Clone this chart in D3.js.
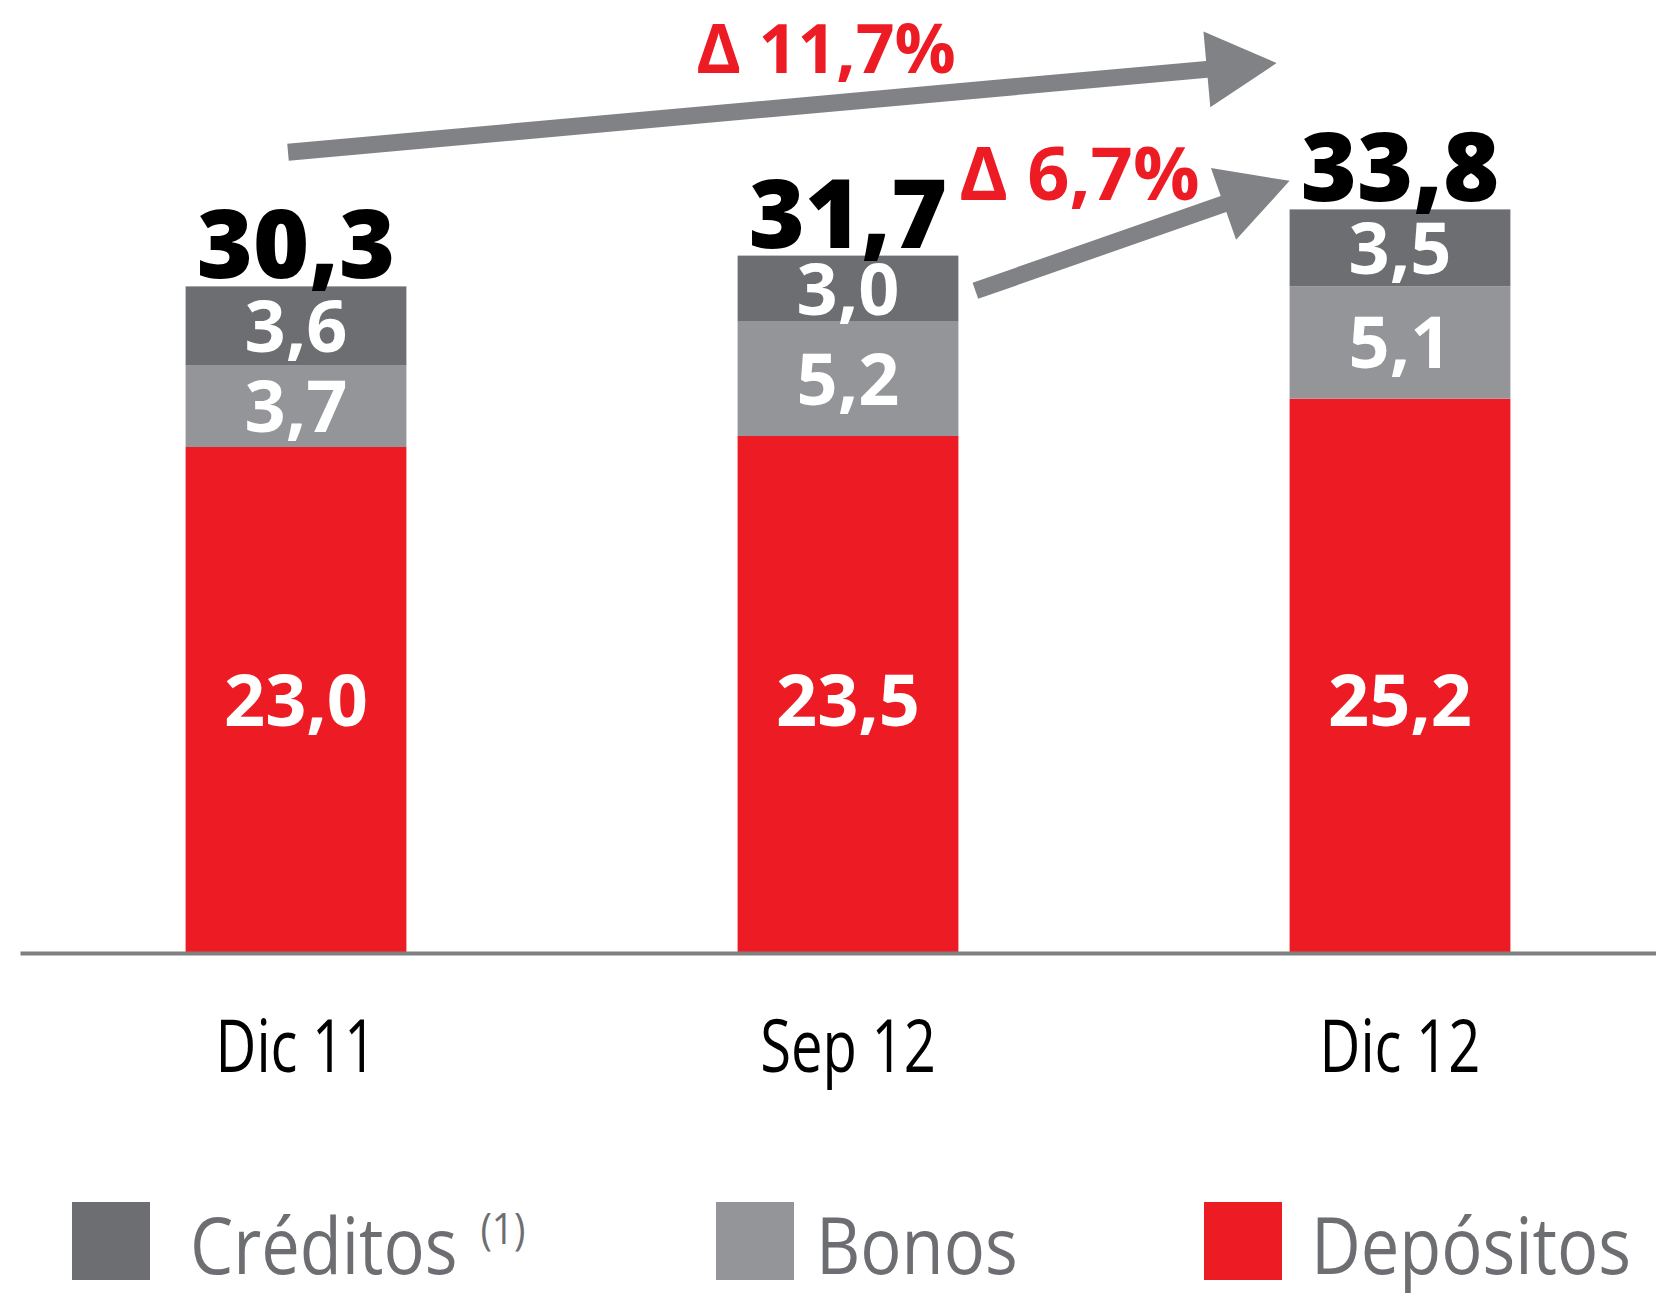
<!DOCTYPE html>
<html>
<head>
<meta charset="utf-8">
<script src="https://cdn.jsdelivr.net/npm/d3@7"></script>
<style>
  body { margin: 0; background: #fff; }
  svg { display: block; }
</style>
</head>
<body>
<svg id="chart" width="1656" height="1294"></svg>
<script>
// Datos (miles de millones)
var periodos = ["Dic 11", "Sep 12", "Dic 12"];
var depositos = [23.0, 23.5, 25.2];
var bonos = [3.7, 5.2, 5.1];
var creditos = [3.6, 3.0, 3.5];
var totales = [30.3, 31.7, 33.8];
var series = ["Créditos", "Bonos", "Depósitos"];
var colores = ["#6d6e71", "#939598", "#ed1c24"];
var variaciones = ["\u0394 11,7%", "\u0394 6,7%"];

var svg = d3.select("#chart");
var fontFam = "'Open Sans', 'DejaVu Sans', sans-serif";
var baseY = 953;

var locale = d3.formatLocale({decimal: ",", thousands: ".", grouping: [3], currency: ["", "€"]});
var fmt = locale.format(".1f");

var rows = periodos.map(function(p, i) {
	return {periodo: p, "Depósitos": depositos[i], "Bonos": bonos[i], "Créditos": creditos[i], total: totales[i]};
});

var stack = d3.stack().keys(["Depósitos", "Bonos", "Créditos"]);
var layers = stack(rows);

var xScale = d3.scaleBand()
	.domain(periodos)
	.range([20, 1676])
	.paddingInner(0.6)
	.paddingOuter(0.3);

var yScale = d3.scaleLinear()
	.domain([0, 40])
	.range([baseY, 73]);

var color = d3.scaleOrdinal().domain(series).range(colores);
var bw = xScale.bandwidth();

// bars
var layerG = svg.append("g").selectAll("g")
	.data(layers)
	.enter().append("g")
	.attr("fill", function(d) { return color(d.key); });

layerG.selectAll("rect")
	.data(function(d) { return d; })
	.enter().append("rect")
	.attr("x", function(d) { return xScale(d.data.periodo); })
	.attr("y", function(d) { return yScale(d[1]); })
	.attr("width", bw)
	.attr("height", function(d) { return yScale(d[0]) - yScale(d[1]); });

// segment labels
layers.forEach(function(layer) {
	svg.append("g").selectAll("text")
		.data(layer)
		.enter().append("text")
		.attr("x", function(d) { return xScale(d.data.periodo) + bw / 2; })
		.attr("y", function(d) {
			// depositos labels sit on a common line
			if (layer.key === "Depósitos") return yScale(d3.min(depositos) / 2);
			return yScale((d[0] + d[1]) / 2);
		})
		.attr("dy", "0.36em")
		.attr("text-anchor", "middle")
		.attr("fill", "#fff")
		.style("font-family", fontFam)
		.style("font-weight", 700)
		.style("font-size", "72px")
		.text(function(d) { return fmt(d[1] - d[0]); });
});

// totals
svg.append("g").selectAll("text")
	.data(rows)
	.enter().append("text")
	.attr("x", function(d) { return xScale(d.periodo) + bw / 2; })
	.attr("y", function(d) { return yScale(d.total) - 8; })
	.attr("text-anchor", "middle")
	.attr("fill", "#000")
	.style("font-family", fontFam)
	.style("font-weight", 800)
	.style("font-size", "96px")
	.text(function(d) { return fmt(d.total); });

// x axis
var xAxis = d3.axisBottom(xScale).tickSize(0).tickSizeOuter(0);
var axisG = svg.append("g")
	.attr("transform", "translate(0," + baseY + ")")
	.call(xAxis);
axisG.select(".domain")
	.attr("stroke", "#808080")
	.attr("stroke-width", 4);
axisG.selectAll("text")
	.attr("y", 119)
	.attr("dy", 0)
	.attr("fill", "#000")
	.attr("transform", "scale(0.76,1)")
	.style("font-family", fontFam)
	.style("font-size", "74px");

// arrows
function arrowPath(x0, y0, x1, y1) {
	var dx = x1 - x0, dy = y1 - y0;
	var len = Math.sqrt(dx * dx + dy * dy);
	var ux = dx / len, uy = dy / len;
	var nx = -uy, ny = ux;
	var shaft = 8.5, head = 38, headLen = 70;
	var bx = x1 - ux * headLen, by = y1 - uy * headLen;
	var pts = [
		[x0 + nx * shaft, y0 + ny * shaft],
		[bx + nx * shaft, by + ny * shaft],
		[bx + nx * head, by + ny * head],
		[x1, y1],
		[bx - nx * head, by - ny * head],
		[bx - nx * shaft, by - ny * shaft],
		[x0 - nx * shaft, y0 - ny * shaft]
	];
	return "M" + pts.map(function(p) { return p.join(","); }).join("L") + "Z";
}

var flechas = [
	[xScale(periodos[0]) + bw / 2 - 8, yScale(36.4), xScale(periodos[2]) - 13, yScale(40.45)],
	[xScale(periodos[1]) + bw + 17, yScale(30.1), xScale(periodos[2]), yScale(35.1)]
];

svg.append("g").selectAll("path")
	.data(flechas)
	.enter().append("path")
	.attr("d", function(d) { return arrowPath(d[0], d[1], d[2], d[3]); })
	.attr("fill", "#808285");

// variation labels
var varPos = [
	[xScale(periodos[1]) + bw / 2 - 22, yScale(40), 68],
	[xScale(periodos[1]) + bw + 121, yScale(34.25), 74]
];
svg.append("g").selectAll("text")
	.data(variaciones)
	.enter().append("text")
	.attr("x", function(d, i) { return varPos[i][0]; })
	.attr("y", function(d, i) { return varPos[i][1]; })
	.attr("text-anchor", "middle")
	.attr("fill", "#ed1c24")
	.style("font-family", fontFam)
	.style("font-weight", 700)
	.style("font-size", function(d, i) { return varPos[i][2] + "px"; })
	.text(function(d) { return d; });

// legend
var legendX = [72, 716, 1204];
var legendTextDx = [118, 100, 107];
var legendY = 1202;
var legend = svg.append("g").selectAll("g")
	.data(series)
	.enter().append("g")
	.attr("transform", function(d, i) { return "translate(" + legendX[i] + "," + legendY + ")"; });

legend.append("rect")
	.attr("width", 78)
	.attr("height", 78)
	.attr("fill", function(d) { return color(d); });

var legendText = legend.append("text")
	.attr("transform", function(d, i) { return "translate(" + legendTextDx[i] + ",72) scale(0.88,1)"; })
	.attr("fill", "#6d6e71")
	.style("font-family", fontFam)
	.style("font-size", "78px")
	.text(function(d) { return d; });

legendText.filter(function(d) { return d === "Créditos"; })
	.append("tspan")
	.attr("dx", 26)
	.attr("dy", -30)
	.style("font-size", "44px")
	.text("(1)");
</script>
</body>
</html>
